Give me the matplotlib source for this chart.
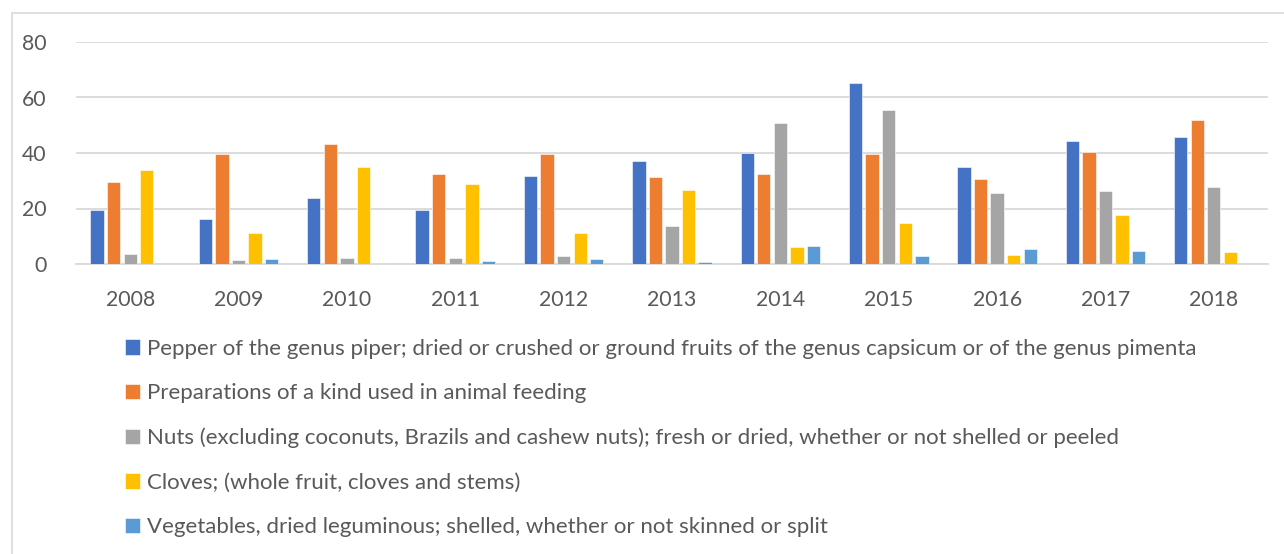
import matplotlib.pyplot as plt
import numpy as np
from matplotlib.patches import Rectangle

years = ['2008', '2009', '2010', '2011', '2012', '2013', '2014', '2015', '2016', '2017', '2018']
pepper = [19.5, 16.2, 23.9, 19.6, 31.8, 37.1, 40.0, 65.3, 34.9, 44.2, 45.8]
feeding = [29.7, 39.7, 43.3, 32.6, 39.8, 31.2, 32.4, 39.8, 30.8, 40.3, 51.9]
nuts = [3.6, 1.4, 2.3, 2.3, 2.8, 13.8, 50.9, 55.6, 25.6, 26.4, 27.8]
cloves = [33.7, 11.0, 35.0, 29.0, 11.0, 26.8, 6.3, 14.7, 3.4, 17.7, 4.3]
vegetables = [0.0, 1.8, 0.3, 1.1, 1.7, 0.8, 6.5, 3.0, 5.5, 4.8, 0.0]

labels = [
    'Pepper of the genus piper; dried or crushed or ground fruits of the genus capsicum or of the genus pimenta',
    'Preparations of a kind used in animal feeding',
    'Nuts (excluding coconuts, Brazils and cashew nuts); fresh or dried, whether or not shelled or peeled',
    'Cloves; (whole fruit, cloves and stems)',
    'Vegetables, dried leguminous; shelled, whether or not skinned or split',
]
colors = ['#4472C4', '#ED7D31', '#A5A5A5', '#FFC000', '#5B9BD5']
series = [pepper, feeding, nuts, cloves, vegetables]

plt.rcParams['font.family'] = ['Lato', 'DejaVu Sans']
text_color = '#595959'

fig = plt.figure(figsize=(12.84, 5.54), dpi=100)
# chart border like the Excel chart area
fig.patches.append(Rectangle((12 / 1284, -0.1), 1.2, 1 - 13 / 554 + 0.1, transform=fig.transFigure,
                             fill=False, edgecolor='#D9D9D9', linewidth=1.2))

ax = fig.add_axes([76 / 1284, 1 - 264 / 554, (1268 - 76) / 1284, (264 - 42) / 554])
x = np.arange(len(years))
step = 0.153
width = 0.123
for i, (vals, lab, col) in enumerate(zip(series, labels, colors)):
    ax.bar(x + (i - 2) * step, vals, width, color=col, label=lab, edgecolor='white', linewidth=0.4, zorder=3)

ax.set_xlim(-0.5, len(years) - 0.5)
ax.set_ylim(0, 80)
ax.set_yticks([0, 20, 40, 60, 80])
ax.set_xticks(x, years)
ax.grid(axis='y', color='#D9D9D9', linewidth=1.3, zorder=0)
for s in ['top', 'right', 'left']:
    ax.spines[s].set_visible(False)
ax.spines['bottom'].set_color('#D9D9D9')
ax.spines['bottom'].set_linewidth(1.3)
ax.tick_params(axis='both', length=0, labelsize=15.3, colors=text_color)
ax.tick_params(axis='y', pad=21)
ax.tick_params(axis='x', pad=19)

fig.legend(loc='upper left', bbox_to_anchor=(116 / 1284, 1 - 330 / 554), frameon=False,
           fontsize=16, labelcolor=text_color, handlelength=0.7, handleheight=0.7,
           handletextpad=0.3, labelspacing=1.1, borderaxespad=0)

plt.savefig('out.png', dpi=100)
